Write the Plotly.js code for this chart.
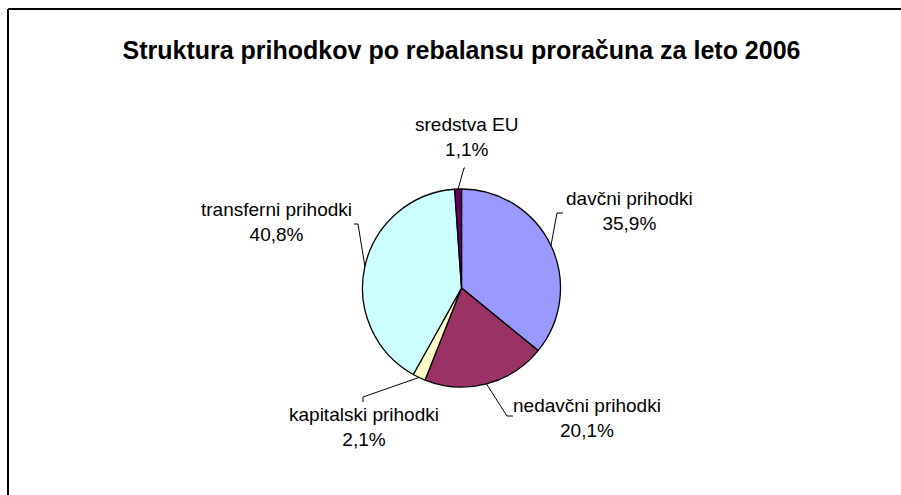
<!DOCTYPE html>
<html>
<head>
<meta charset="utf-8">
<script src="https://cdn.plot.ly/plotly-3.0.1.min.js"></script>
<style>
  html, body { margin: 0; padding: 0; background: #ffffff; }
  #chart { width: 901px; height: 495px; }
</style>
</head>
<body>
<div id="chart"></div>
<script>
// ---- data ----
const categories = ["davčni prihodki", "nedavčni prihodki", "kapitalski prihodki", "transferni prihodki", "sredstva EU"];
const shares = [35.9, 20.1, 2.1, 40.8, 1.1];
const sliceColors = ["#9999FF", "#993366", "#FFFFCC", "#CCFFFF", "#660066"];
const titleText = "Struktura prihodkov po rebalansu proračuna za leto 2006";

// ---- layout (pixels) ----
const W = 901, H = 495;
const cx = 461.5, cy = 288, R = 99;
// label centres and leader-line bend points (layout only)
const labelPos = [[629, 211], [587, 418], [364, 427], [276, 222], [466, 136.5]];
const leaderPts = [
  [[557, 213], [563, 213]],
  [[507, 416], [513, 416]],
  [[363, 397], [363, 402]],
  [[358, 224], [354, 224]],
  [[464, 168], [465, 168]]
];

const px = x => x / W;
const py = y => 1 - y / H;

function fmt(v) { return v.toFixed(1).replace('.', ',') + '%'; }

const total = shares.reduce((a, b) => a + b, 0);
let cum = 0;
const shapes = [];
const annotations = [];
shares.forEach((v, i) => {
  const mid = (cum + v / 2) / total * 2 * Math.PI;
  cum += v;
  const sx = cx + R * Math.sin(mid);
  const sy = cy - R * Math.cos(mid);
  const pts = [[sx, sy]].concat(leaderPts[i]);
  let path = 'M' + px(pts[0][0]) + ',' + py(pts[0][1]);
  for (let k = 1; k < pts.length; k++) path += ' L' + px(pts[k][0]) + ',' + py(pts[k][1]);
  shapes.push({ type: 'path', xref: 'paper', yref: 'paper', path: path,
                line: { color: '#000000', width: 1 } });
  annotations.push({
    xref: 'paper', yref: 'paper', x: px(labelPos[i][0]), y: py(labelPos[i][1]),
    xanchor: 'center', yanchor: 'middle', showarrow: false, align: 'center',
    text: categories[i] + '<br>' + fmt(v),
    font: { family: 'Liberation Sans, Arial, sans-serif', size: 19, color: '#000000' }
  });
});

// chart frame (top and left edges visible)
shapes.push({ type: 'line', xref: 'paper', yref: 'paper', x0: px(8), y0: py(9), x1: 1.01, y1: py(9),
              line: { color: '#000000', width: 2 } });
shapes.push({ type: 'line', xref: 'paper', yref: 'paper', x0: px(8), y0: py(9), x1: px(8), y1: -0.01,
              line: { color: '#000000', width: 2 } });

const trace = {
  type: 'pie',
  labels: categories,
  values: shares,
  sort: false,
  direction: 'clockwise',
  rotation: 0,
  textinfo: 'none',
  hoverinfo: 'label+percent',
  marker: { colors: sliceColors, line: { color: '#000000', width: 1.3 } },
  domain: { x: [px(cx - R), px(cx + R)], y: [py(cy + R), py(cy - R)] },
  showlegend: false
};

const layout = {
  width: W, height: H,
  margin: { l: 0, r: 0, t: 0, b: 0 },
  paper_bgcolor: '#ffffff',
  separators: ',.',
  title: {
    text: '<b>' + titleText + '</b>',
    x: px(461.5), xref: 'paper', xanchor: 'center',
    y: py(50), yref: 'paper', yanchor: 'middle',
    font: { family: 'Liberation Sans, Arial, sans-serif', size: 25, color: '#000000' }
  },
  shapes: shapes,
  annotations: annotations,
  showlegend: false
};

Plotly.newPlot('chart', [trace], layout, { displayModeBar: false, staticPlot: true });
</script>
</body>
</html>
